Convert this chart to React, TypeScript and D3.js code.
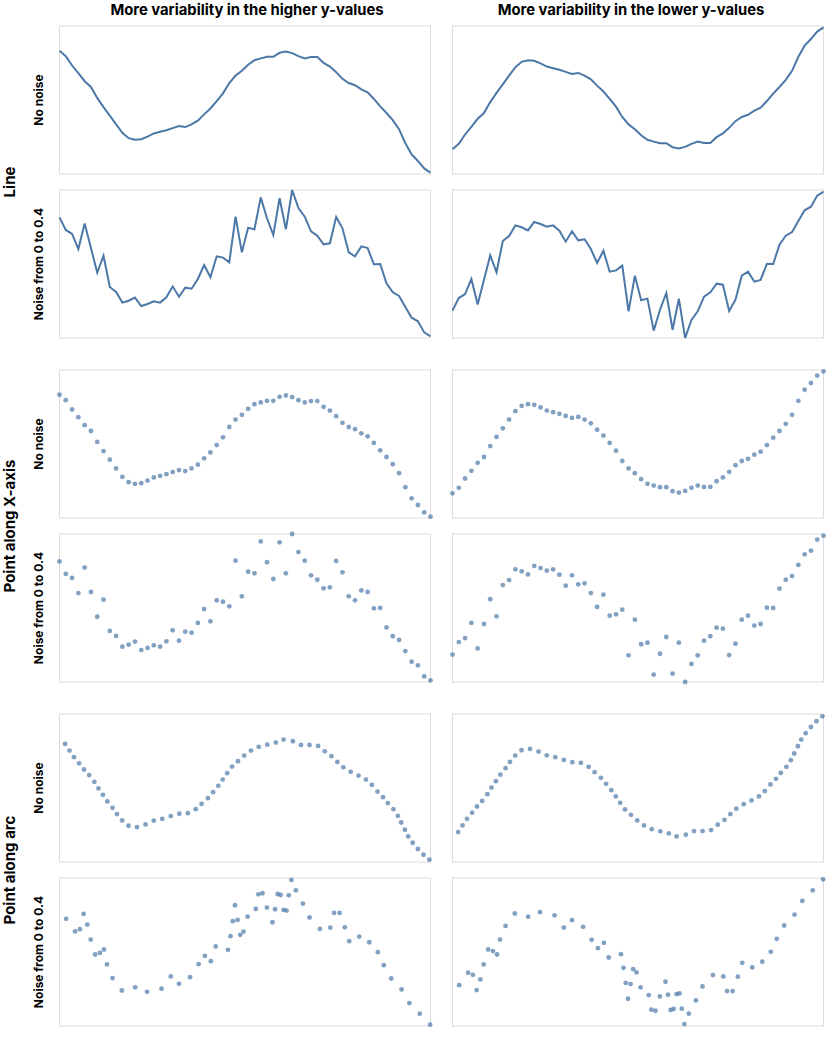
import React from "react";
import * as d3 from "d3";

const columnTitles = ["More variability in the higher y-values", "More variability in the lower y-values"];
const groupLabels = ["Line", "Point along X-axis", "Point along arc"];
const rowLabels = ["No noise", "Noise from 0 to 0.4"];

// Values evenly spaced along x (index 0..59), y in [0,1]
const higherClean = [0.833,0.796,0.733,0.681,0.627,0.588,0.514,0.452,0.394,0.335,0.278,0.242,0.231,0.235,0.253,0.274,0.285,0.296,0.310,0.324,0.317,0.335,0.360,0.403,0.443,0.493,0.545,0.615,0.665,0.697,0.738,0.769,0.781,0.792,0.792,0.819,0.828,0.817,0.796,0.781,0.790,0.790,0.751,0.726,0.688,0.643,0.615,0.600,0.572,0.552,0.507,0.457,0.412,0.364,0.303,0.208,0.133,0.088,0.038,0.009];
const higherNoisy = [0.815,0.730,0.703,0.601,0.773,0.608,0.441,0.556,0.345,0.311,0.239,0.252,0.273,0.216,0.230,0.248,0.239,0.275,0.349,0.279,0.340,0.333,0.399,0.493,0.410,0.552,0.543,0.511,0.820,0.579,0.745,0.734,0.950,0.809,0.696,0.944,0.734,1.000,0.878,0.820,0.721,0.691,0.633,0.640,0.818,0.741,0.579,0.552,0.619,0.608,0.498,0.500,0.369,0.309,0.284,0.209,0.137,0.113,0.038,0.011];
const lowerClean = [0.167,0.204,0.267,0.319,0.373,0.412,0.486,0.548,0.606,0.665,0.722,0.758,0.769,0.765,0.747,0.726,0.715,0.704,0.690,0.676,0.683,0.665,0.640,0.597,0.557,0.507,0.455,0.385,0.335,0.303,0.262,0.231,0.219,0.208,0.208,0.181,0.172,0.183,0.204,0.219,0.210,0.210,0.249,0.274,0.312,0.357,0.385,0.400,0.428,0.448,0.493,0.543,0.588,0.636,0.697,0.792,0.867,0.912,0.962,0.991];
const lowerNoisy = [0.185,0.270,0.297,0.399,0.227,0.392,0.559,0.444,0.655,0.689,0.761,0.748,0.727,0.784,0.770,0.752,0.761,0.725,0.651,0.721,0.660,0.667,0.601,0.507,0.590,0.448,0.457,0.489,0.180,0.421,0.255,0.266,0.050,0.191,0.304,0.056,0.266,0.000,0.122,0.180,0.279,0.309,0.367,0.360,0.182,0.259,0.421,0.448,0.381,0.392,0.502,0.500,0.631,0.691,0.716,0.791,0.863,0.887,0.962,0.989];

// Points spaced along the arc of the curve: x in [0,1], y in [0,1]
const arcCleanX = [0.015,0.027,0.039,0.053,0.066,0.080,0.094,0.105,0.117,0.129,0.143,0.155,0.169,0.186,0.209,0.232,0.254,0.277,0.300,0.323,0.346,0.367,0.383,0.400,0.414,0.428,0.440,0.452,0.465,0.481,0.498,0.516,0.537,0.560,0.583,0.604,0.629,0.651,0.674,0.697,0.715,0.733,0.749,0.765,0.785,0.806,0.826,0.842,0.857,0.872,0.885,0.900,0.912,0.921,0.931,0.940,0.952,0.966,0.981,0.997];
const arcHigherCleanY = [0.798,0.753,0.708,0.667,0.625,0.587,0.542,0.497,0.454,0.409,0.366,0.324,0.281,0.245,0.236,0.254,0.279,0.292,0.310,0.326,0.330,0.357,0.393,0.431,0.472,0.515,0.557,0.600,0.645,0.681,0.719,0.753,0.778,0.793,0.807,0.827,0.816,0.791,0.791,0.784,0.748,0.715,0.676,0.640,0.609,0.584,0.557,0.521,0.476,0.438,0.398,0.357,0.312,0.267,0.218,0.173,0.130,0.088,0.049,0.016];
const arcLowerCleanY = [0.202,0.247,0.292,0.333,0.375,0.413,0.458,0.503,0.546,0.591,0.634,0.676,0.719,0.755,0.764,0.746,0.721,0.708,0.690,0.674,0.670,0.643,0.607,0.569,0.528,0.485,0.443,0.400,0.355,0.319,0.281,0.247,0.222,0.207,0.193,0.173,0.184,0.209,0.209,0.216,0.252,0.285,0.324,0.360,0.391,0.416,0.443,0.479,0.524,0.562,0.602,0.643,0.688,0.733,0.782,0.827,0.870,0.912,0.951,0.984];
const arcNoisyX = [0.018,0.042,0.055,0.065,0.075,0.084,0.096,0.109,0.120,0.128,0.143,0.168,0.204,0.236,0.275,0.300,0.322,0.352,0.375,0.392,0.408,0.421,0.454,0.461,0.467,0.473,0.480,0.487,0.496,0.507,0.529,0.536,0.547,0.559,0.574,0.581,0.588,0.596,0.604,0.612,0.618,0.625,0.637,0.656,0.674,0.702,0.730,0.740,0.755,0.769,0.781,0.808,0.835,0.858,0.874,0.894,0.922,0.943,0.971,0.999];
const arcHigherNoisyY = [0.724,0.640,0.654,0.757,0.685,0.584,0.483,0.494,0.517,0.416,0.324,0.240,0.261,0.231,0.252,0.335,0.285,0.330,0.418,0.474,0.438,0.537,0.515,0.607,0.708,0.816,0.717,0.616,0.638,0.739,0.791,0.890,0.897,0.800,0.701,0.789,0.892,0.885,0.784,0.780,0.883,0.987,0.917,0.827,0.733,0.656,0.665,0.764,0.764,0.667,0.573,0.604,0.566,0.499,0.411,0.321,0.247,0.155,0.083,0.009];
const arcLowerNoisyY = [0.276,0.360,0.346,0.243,0.315,0.416,0.517,0.506,0.483,0.584,0.676,0.760,0.739,0.769,0.748,0.665,0.715,0.670,0.582,0.526,0.562,0.463,0.485,0.393,0.292,0.184,0.283,0.384,0.362,0.261,0.209,0.110,0.103,0.200,0.299,0.211,0.108,0.115,0.216,0.220,0.117,0.013,0.083,0.173,0.267,0.344,0.335,0.236,0.236,0.333,0.427,0.396,0.434,0.501,0.589,0.679,0.753,0.845,0.917,0.991];

type Pt = [number, number];

const W = 830;
const H = 1037;
const colX = [59.5, 452.5];
const panelW = 371;
const panelH = 148;
const groupTops = [26, 370, 714];
const rowOffset = 164;
const LINE_COLOR = "#4c78a8";
const FONT = "Inter, 'Noto Sans', sans-serif";

function indexed(vals: number[]): Pt[] {
  return vals.map((v, i) => [i, v]);
}
function paired(xs: number[], ys: number[]): Pt[] {
  return xs.map((x, i) => [x, ys[i]]);
}

export default function App() {
  const panels: JSX.Element[] = [];
  const rowLabelEls: JSX.Element[] = [];
  const groupLabelEls: JSX.Element[] = [];

  const seriesFor = (g: number, r: number, c: number): Pt[] => {
    if (g < 2) {
      const arr = c === 0 ? (r === 0 ? higherClean : higherNoisy) : r === 0 ? lowerClean : lowerNoisy;
      return indexed(arr);
    }
    if (r === 0) return paired(arcCleanX, c === 0 ? arcHigherCleanY : arcLowerCleanY);
    return paired(arcNoisyX, c === 0 ? arcHigherNoisyY : arcLowerNoisyY);
  };

  groupTops.forEach((gt, g) => {
    const gBottom = gt + rowOffset + panelH;
    groupLabelEls.push(
      <text
        key={"g" + g}
        transform={`translate(15,${(gt + gBottom) / 2}) rotate(-90)`}
        textAnchor="middle"
        fontFamily={FONT}
        fontWeight={700}
        fontSize={15}
        fill="#000"
      >
        {groupLabels[g]}
      </text>
    );
    [0, 1].forEach((r) => {
      const top = gt + r * rowOffset;
      rowLabelEls.push(
        <text
          key={`rl${g}-${r}`}
          transform={`translate(43,${top + panelH / 2}) rotate(-90)`}
          textAnchor="middle"
          fontFamily={FONT}
          fontWeight={700}
          fontSize={12}
          fill="#000"
        >
          {rowLabels[r]}
        </text>
      );
      [0, 1].forEach((c) => {
        const left = colX[c];
        const data = seriesFor(g, r, c);
        const xDomain: [number, number] = g < 2 ? [0, data.length - 1] : [0, 1];
        const x = d3.scaleLinear().domain(xDomain).range([left, left + panelW]);
        const y = d3.scaleLinear().domain([0, 1]).range([top + panelH, top]);
        let marks: JSX.Element;
        if (g === 0) {
          const line = d3
            .line<Pt>()
            .x((d) => x(d[0]))
            .y((d) => y(d[1]));
          marks = <path d={line(data) || ""} fill="none" stroke={LINE_COLOR} strokeWidth={2} strokeLinejoin="miter" />;
        } else {
          marks = (
            <g>
              {data.map((d, i) => (
                <circle key={i} cx={x(d[0])} cy={y(d[1])} r={2.4} fill={LINE_COLOR} fillOpacity={0.7} />
              ))}
            </g>
          );
        }
        panels.push(
          <g key={`p${g}-${r}-${c}`}>
            <rect x={left} y={top} width={panelW} height={panelH} fill="#fff" stroke="#dddddd" strokeWidth={1} />
            {marks}
          </g>
        );
      });
    });
  });

  return (
    <svg
      width={W}
      height={H}
      style={{ position: "absolute", left: 0, top: 0, background: "#fff" }}
    >
      <rect x={0} y={0} width={W} height={H} fill="#fff" />
      <text x={247} y={15} textAnchor="middle" fontFamily={FONT} fontWeight={700} fontSize={14.8} fill="#000">
        {columnTitles[0]}
      </text>
      <text x={631} y={15} textAnchor="middle" fontFamily={FONT} fontWeight={700} fontSize={14.8} fill="#000">
        {columnTitles[1]}
      </text>
      {panels}
      {rowLabelEls}
      {groupLabelEls}
    </svg>
  );
}
